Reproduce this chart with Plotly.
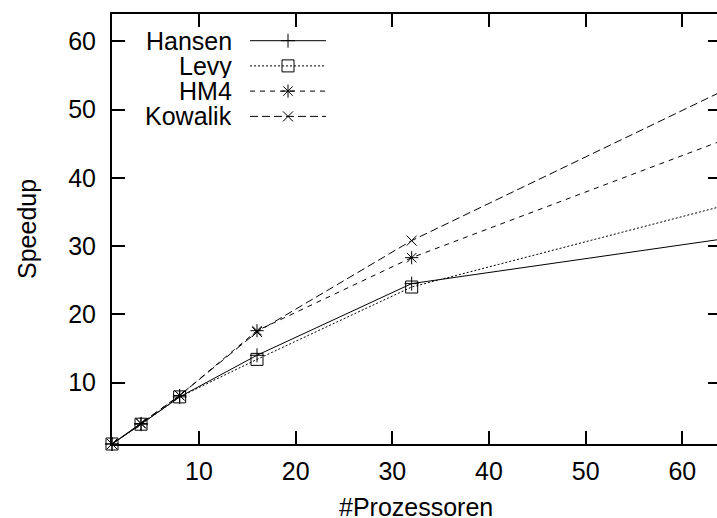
import plotly.graph_objects as go

# Processor counts and measured speedups
processors = [1, 4, 8, 16, 32, 64]
hansen = [1, 3.9, 7.9, 14.0, 24.5, 31.0]
levy = [1, 3.9, 7.9, 13.4, 24.0, 35.8]
hm4 = [1, 4.0, 8.1, 17.6, 28.3, 45.4]
kowalik = [1, 4.0, 8.1, 17.4, 30.8, 52.6]

x_ticks = [10, 20, 30, 40, 50, 60]
y_ticks = [10, 20, 30, 40, 50, 60]

FONT = "Liberation Sans, Arial, Helvetica, sans-serif"
FS = 25

series = [
    ("Hansen", hansen, "solid", "cross-thin-open", 10),
    ("Levy", levy, "2px,2px", "square-open", 12),
    ("HM4", hm4, "5px,5px", "asterisk-open", 11),
    ("Kowalik", kowalik, "8px,4px", "x-thin-open", 10),
]

fig = go.Figure()

for name, vals, dash, sym, msize in series:
    fig.add_trace(go.Scatter(
        x=processors, y=vals, mode="lines+markers", name=name,
        line=dict(color="black", width=1, dash=dash),
        marker=dict(symbol=sym, size=msize, color="black",
                    line=dict(color="black", width=1)),
        cliponaxis=False, showlegend=False,
    ))

# Key in the upper left: label right-aligned, sample line to its right
# (x2/y2 run in pixel units over the plot area)
key_rows = [40.7, 65.9, 91.1, 116.4]
for (name, vals, dash, sym, msize), ky in zip(series, key_rows):
    fig.add_trace(go.Scatter(
        x=[250, 326], y=[ky, ky], xaxis="x2", yaxis="y2", mode="lines",
        line=dict(color="black", width=1, dash=dash),
        showlegend=False, hoverinfo="skip", cliponaxis=False,
    ))
    fig.add_trace(go.Scatter(
        x=[288], y=[ky], xaxis="x2", yaxis="y2", mode="markers",
        marker=dict(symbol=sym, size=msize, color="black",
                    line=dict(color="black", width=1)),
        showlegend=False, hoverinfo="skip", cliponaxis=False,
    ))
    fig.add_annotation(
        x=233, y=ky, xref="x2", yref="y2", text=name, showarrow=False,
        xanchor="right", yanchor="middle", height=24, borderpad=0,
        valign="middle",
        font=dict(family=FONT, size=FS, color="black"),
    )

axis_common = dict(
    showgrid=False, zeroline=False, showline=True, linecolor="black",
    linewidth=2, ticks="inside", ticklen=13, tickwidth=2, tickcolor="black",
    tickfont=dict(family=FONT, size=FS, color="black"),
)

fig.update_layout(
    width=717, height=518,
    margin=dict(l=112, r=0, t=14, b=74, autoexpand=False),
    paper_bgcolor="white", plot_bgcolor="white",
    xaxis=dict(range=[1, 63.585], tickvals=x_ticks, mirror="ticks",
               ticklabelstandoff=4, **axis_common),
    yaxis=dict(range=[1, 64], tickvals=y_ticks, ticklabelstandoff=9,
               **axis_common),
    yaxis3=dict(range=[1, 64], tickvals=y_ticks, overlaying="y", side="right",
                showgrid=False, zeroline=False, showline=False,
                ticks="inside", ticklen=9, tickwidth=2, tickcolor="black",
                showticklabels=False),
    xaxis2=dict(range=[112, 717], overlaying="x", visible=False),
    yaxis2=dict(range=[444, 14], overlaying="y", visible=False),
    showlegend=False,
)

# empty trace so the right-hand tick axis is drawn
fig.add_trace(go.Scatter(x=[None], y=[None], yaxis="y3", showlegend=False,
                         hoverinfo="skip"))

fig.add_annotation(
    text="Speedup", xref="paper", yref="paper", x=-0.1405, y=0.5,
    textangle=-90, showarrow=False, xanchor="center", yanchor="middle",
    font=dict(family=FONT, size=FS, color="black"),
)
fig.add_annotation(
    text="#Prozessoren", xref="paper", yref="paper", x=0.5033, y=-0.1465,
    showarrow=False, xanchor="center", yanchor="middle",
    height=22, borderpad=0, valign="middle",
    font=dict(family=FONT, size=FS, color="black"),
)

fig.write_html("out.html")
